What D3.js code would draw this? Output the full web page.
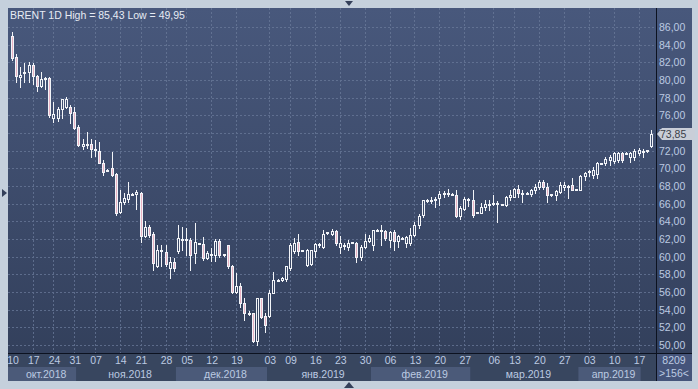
<!DOCTYPE html>
<html>
<head>
<meta charset="utf-8">
<script src="https://cdn.jsdelivr.net/npm/d3@7"></script>
<style>
  body { margin: 0; background: #c5d0dc; }
  svg { display: block; font-family: "Liberation Sans", Arial, sans-serif; }
</style>
</head>
<body>
<svg id="chart" width="698" height="389"></svg>
<script>
// BRENT daily candles (oldest first)
var open  = [85.0,82.6,80.3,80.8,80.9,81.7,80.4,79.3,80.1,80.2,75.7,75.7,76.7,77.0,76.9,76.4,74.7,72.5,72.7,72.7,72.1,72.0,70.6,69.8,70.0,69.4,65.0,66.2,66.5,67.1,67.1,67.2,62.3,63.4,62.6,59.0,60.7,60.5,58.7,59.4,60.6,61.9,61.9,61.9,60.4,61.5,61.4,59.8,60.2,60.2,61.8,60.2,
             61.3,58.9,56.0,56.7,54.7,53.6,53.6,50.4,55.3,53.3,53.3,55.9,57.35,57.4,57.5,58.7,60.6,61.7,60.7,59.1,59.2,60.6,61.3,61.1,62.7,62.6,62.9,61.1,61.3,61.1,61.6,61.6,59.95,61.1,61.8,61.3,63.0,62.9,62.9,61.9,62.8,61.8,62.1,61.5,61.5,62.4,63.6,64.7,66.35,66.4,66.5,
             66.6,67.15,67.2,67.1,66.95,64.6,65.4,66.5,66.4,64.95,64.95,65.66,65.96,65.96,66.0,65.9,65.85,66.7,66.8,67.7,67.2,67.2,67.1,67.55,67.9,68.5,67.9,67.0,67.0,67.3,67.9,67.9,68.1,67.6,67.6,69.1,69.6,69.2,69.4,70.55,70.6,71.0,70.8,71.0,71.7,71.7,71.3,71.3,71.7,71.9,72.0,72.5];
var high  = [85.43,82.9,81.5,81.96,82.0,81.9,80.6,80.9,80.3,80.3,77.5,77.0,77.9,78.1,77.2,77.0,74.9,73.3,74.15,73.3,73.2,73.0,70.9,69.9,71.9,69.5,67.6,67.2,68.4,67.2,67.5,67.3,64.0,63.6,62.8,61.3,61.3,61.3,60.0,59.9,63.6,63.4,63.3,62.1,63.8,61.6,62.2,60.6,61.0,62.0,62.0,60.3,
             61.35,59.1,58.1,57.0,55.3,53.8,53.6,55.3,55.3,53.6,56.2,58.3,57.5,57.7,59.0,61.5,62.1,62.6,60.8,60.9,60.75,61.5,61.5,63.0,62.8,63.1,63.0,62.3,61.6,61.9,61.7,61.7,61.3,62.6,62.5,63.0,63.1,63.6,63.0,62.9,63.0,62.4,62.2,62.3,63.2,63.9,64.8,66.4,66.5,66.7,66.7,
             67.4,67.4,67.7,67.2,67.5,65.7,66.7,66.6,67.5,65.1,66.1,66.4,66.4,67.0,66.3,66.0,66.9,67.5,67.8,68.1,67.5,67.3,67.7,68.2,68.7,68.7,68.3,67.1,67.55,68.4,68.5,68.1,68.9,67.7,69.2,69.6,69.8,70.1,70.75,70.6,71.3,71.5,71.9,71.9,71.8,71.8,71.8,72.2,72.3,72.2,72.1,74.3];
var low   = [82.3,79.8,79.24,79.8,79.8,79.5,78.7,79.2,79.0,75.85,75.2,75.4,75.7,76.8,75.1,74.5,72.5,72.2,72.3,71.3,71.4,70.6,69.2,69.7,69.1,64.7,64.9,66.0,66.2,67.0,65.4,61.7,62.2,62.2,58.5,58.8,58.9,58.9,57.55,58.4,60.4,60.8,60.2,58.5,59.3,61.4,59.6,59.7,59.5,59.5,60.0,60.1,
             58.7,55.85,55.9,54.3,52.8,53.4,50.3,49.95,53.1,51.5,53.2,55.85,57.2,57.3,57.2,58.5,60.4,60.2,60.6,58.9,59.1,60.0,61.1,61.0,62.6,62.4,61.3,60.4,60.9,60.75,61.5,59.4,59.6,61.0,61.7,60.75,62.9,61.3,61.9,61.1,60.75,61.1,62.0,61.1,61.3,62.3,63.3,64.5,66.2,66.1,65.6,
             65.9,66.7,66.9,67.0,64.5,64.3,65.3,65.7,64.5,64.9,64.9,65.3,65.3,65.9,63.96,65.8,65.7,66.4,66.7,66.7,66.2,67.1,66.9,67.2,67.7,67.7,66.2,66.9,66.4,67.2,67.5,66.6,67.5,67.5,67.55,68.7,69.1,68.9,68.9,70.5,70.4,70.4,70.6,70.7,70.7,71.6,70.7,70.9,71.5,71.3,71.9,72.4];
var close = [82.5,80.4,80.6,80.9,81.7,80.4,79.3,80.1,80.2,76.0,76.2,76.7,77.8,77.9,76.3,74.6,72.6,72.8,72.75,72.15,72.2,70.6,69.6,69.75,69.3,64.9,66.2,66.6,67.1,67.15,67.3,62.3,63.4,62.45,59.25,60.75,60.8,59.2,59.4,58.7,62.1,62.0,62.0,60.2,61.7,61.55,59.8,60.4,60.3,61.8,60.2,60.25,
             58.9,56.0,56.7,54.7,53.6,53.5,50.4,55.3,53.2,52.3,55.9,57.4,57.4,57.6,58.9,61.3,61.5,60.6,60.75,60.75,60.7,61.4,61.4,62.6,62.75,62.9,61.5,61.5,61.35,61.6,61.65,60.0,61.1,61.8,62.1,63.0,63.05,63.0,62.1,62.8,61.8,62.3,62.15,62.2,62.4,63.6,64.6,66.4,66.4,66.45,66.55,
             67.1,67.2,67.25,67.15,64.6,65.5,66.5,66.55,64.7,65.0,65.66,65.96,66.0,66.1,66.05,65.95,66.7,67.0,67.7,67.2,67.25,67.25,67.55,67.9,68.5,67.9,67.0,67.05,67.4,68.1,68.1,68.05,67.6,67.65,69.1,69.5,69.65,69.8,70.6,70.6,71.1,71.3,71.7,71.7,71.0,71.75,71.7,72.0,72.1,71.95,72.05,73.85];

// date ticks (day of month) and the bar they sit on
var dayLabels = ["10","17","24","31","07","14","21","28","05","12","19","03","09","16","23","30","06","13","20","27","06","13","20","27","03","10","17"];
var dayBars   = [0,5,10,15,20,26,31,37,42,48,54,62,67,73,79,85,91,97,103,109,116,121,127,133,139,145,151];

// month bands: first and last bar of each
var monthLabels = ["окт.2018","ноя.2018","дек.2018","янв.2019","фев.2019","мар.2019","апр.2019"];
var monthFirst  = [-1,16,40,62,87,111,137];
var monthLast   = [15,39,61,86,110,136,151];

var priceTicks  = [50,52,54,56,58,60,62,64,66,68,70,72,74,76,78,80,82,84,86];
var priceLabels = ["50,00","52,00","54,00","56,00","58,00","60,00","62,00","64,00","66,00","68,00","70,00","72,00","74,00","76,00","78,00","80,00","82,00","84,00","86,00"];
var lastPrice = 73.85;

var plotL = 8, plotR = 656, plotT = 8, plotB = 353, axisR = 692, bottomB = 381;

var svg = d3.select("#chart");
var bars = d3.range(open.length);

var x = d3.scaleLinear().domain([0, open.length - 1]).range([12, 651]);
var y = d3.scaleLinear().domain([50, 86]).range([345, 27]);
var px = function (v) { return Math.round(v) + 0.5; };

// background gradient
var defs = svg.append("defs");
var grad = defs.append("linearGradient").attr("id", "bg")
    .attr("gradientUnits", "userSpaceOnUse")
    .attr("x1", 0).attr("y1", plotT).attr("x2", 0).attr("y2", plotB);
grad.append("stop").attr("offset", "0%").attr("stop-color", "#48587c");
grad.append("stop").attr("offset", "100%").attr("stop-color", "#33405c");

svg.append("rect").attr("x", 0).attr("y", 0).attr("width", 698).attr("height", 389).attr("fill", "#c5d0dc");
svg.append("rect").attr("x", plotL).attr("y", plotT).attr("width", axisR - plotL).attr("height", plotB - plotT).attr("fill", "url(#bg)");
svg.append("rect").attr("x", plotL).attr("y", plotB).attr("width", axisR - plotL).attr("height", bottomB - plotB).attr("fill", "#38465f");
svg.append("rect").attr("x", plotR).attr("y", plotB).attr("width", axisR - plotR).attr("height", bottomB - plotB).attr("fill", "#45547a");

// little frame arrows
svg.append("path").attr("d", "M345,1 L353,1 L349,6 Z").attr("fill", "#34405a");
svg.append("path").attr("d", "M2,189 L7,193 L2,197 Z").attr("fill", "#34405a");
svg.append("path").attr("d", "M344,388 L354,388 L349,382 Z").attr("fill", "#34405a");

// grid
var grid = svg.append("g").attr("stroke", "#6a7a9a").attr("stroke-width", 1)
    .attr("stroke-dasharray", "2,2").attr("opacity", 0.75);
grid.selectAll("line.h").data(priceTicks).join("line")
    .attr("x1", plotL).attr("x2", plotR)
    .attr("y1", function (d) { return px(y(d)); }).attr("y2", function (d) { return px(y(d)); });
grid.selectAll("line.v").data(dayBars.slice(1)).join("line")
    .attr("y1", plotT).attr("y2", plotB)
    .attr("x1", function (d) { return px(x(d)); }).attr("x2", function (d) { return px(x(d)); });

// candles
var cg = svg.append("g");
cg.selectAll("line").data(bars).join("line")
    .attr("x1", function (i) { return px(x(i)); })
    .attr("x2", function (i) { return px(x(i)); })
    .attr("y1", function (i) { return Math.round(y(high[i])); })
    .attr("y2", function (i) { return Math.round(y(low[i])) + 1; })
    .attr("stroke", "#f2f4f8");
cg.selectAll("rect").data(bars).join("rect")
    .attr("x", function (i) { return Math.round(x(i)) - 0.5; })
    .attr("y", function (i) { return px(y(Math.max(open[i], close[i]))); })
    .attr("width", 2)
    .attr("height", function (i) {
        var h = Math.round(y(Math.min(open[i], close[i]))) - Math.round(y(Math.max(open[i], close[i])));
        return Math.max(h, 1);
    })
    .attr("fill", function (i) { return close[i] < open[i] ? "#e9b2c4" : "url(#bg)"; })
    .attr("stroke", "#f2f4f8");

// axis separators
svg.append("line").attr("x1", plotL).attr("x2", axisR).attr("y1", plotB + 0.5).attr("y2", plotB + 0.5).attr("stroke", "#0c1220");
svg.append("line").attr("x1", plotR + 0.5).attr("x2", plotR + 0.5).attr("y1", plotT).attr("y2", bottomB).attr("stroke", "#0c1220");

// price axis labels
svg.append("g").selectAll("text").data(priceTicks).join("text")
    .attr("x", plotR + 3)
    .attr("y", function (d) { return y(d) + 4; })
    .attr("font-size", 10.5).attr("fill", "#bccae2")
    .text(function (d, i) { return priceLabels[i]; });

// last price marker
var ly = Math.round(y(lastPrice));
svg.append("path")
    .attr("d", "M" + (plotR + 1) + "," + ly + " L" + (plotR + 6) + "," + (ly - 6) + " L" + (axisR + 3) + "," + (ly - 6) +
               " L" + (axisR + 3) + "," + (ly + 6) + " L" + (plotR + 6) + "," + (ly + 6) + " Z")
    .attr("fill", "#c9ced8");
svg.append("text").attr("x", plotR + 4).attr("y", ly + 4)
    .attr("font-size", 10.5).attr("fill", "#3b3f48").text("73,85");

// month bands
var mg = svg.append("g");
mg.selectAll("rect").data(monthLabels).join("rect")
    .attr("x", function (d, i) { return Math.max(plotL, x(monthFirst[i] - 0.5)); })
    .attr("y", 367)
    .attr("width", function (d, i) { return x(monthLast[i] + 0.5) - Math.max(plotL, x(monthFirst[i] - 0.5)); })
    .attr("height", bottomB - 367)
    .attr("fill", function (d, i) { return i % 2 === 0 ? "#4b5a79" : "#38465f"; });
mg.selectAll("text").data(monthLabels).join("text")
    .attr("x", function (d, i) { return (Math.max(plotL, x(monthFirst[i] - 0.5)) + x(monthLast[i] + 0.5)) / 2 + 4; })
    .attr("y", 378)
    .attr("text-anchor", "middle")
    .attr("font-size", 10.5).attr("fill", "#bccae2")
    .text(function (d) { return d; });

// day labels
svg.append("g").selectAll("text").data(dayLabels).join("text")
    .attr("x", function (d, i) { return x(dayBars[i]) + 1; })
    .attr("y", 364)
    .attr("text-anchor", "middle")
    .attr("font-size", 10.5).attr("fill", "#bccae2")
    .text(function (d) { return d; });

// bottom-right cell
svg.append("text").attr("x", 674).attr("y", 364).attr("text-anchor", "middle")
    .attr("font-size", 10.5).attr("fill", "#bccae2").text("8209");
svg.append("text").attr("x", 674).attr("y", 377).attr("text-anchor", "middle")
    .attr("font-size", 10.5).attr("fill", "#bccae2").text(">156<");

// title
svg.append("text").attr("x", 10).attr("y", 19)
    .attr("font-size", 10.5).attr("fill", "#e6ebf4")
    .text("BRENT 1D High = 85,43 Low = 49,95");
</script>
</body>
</html>
